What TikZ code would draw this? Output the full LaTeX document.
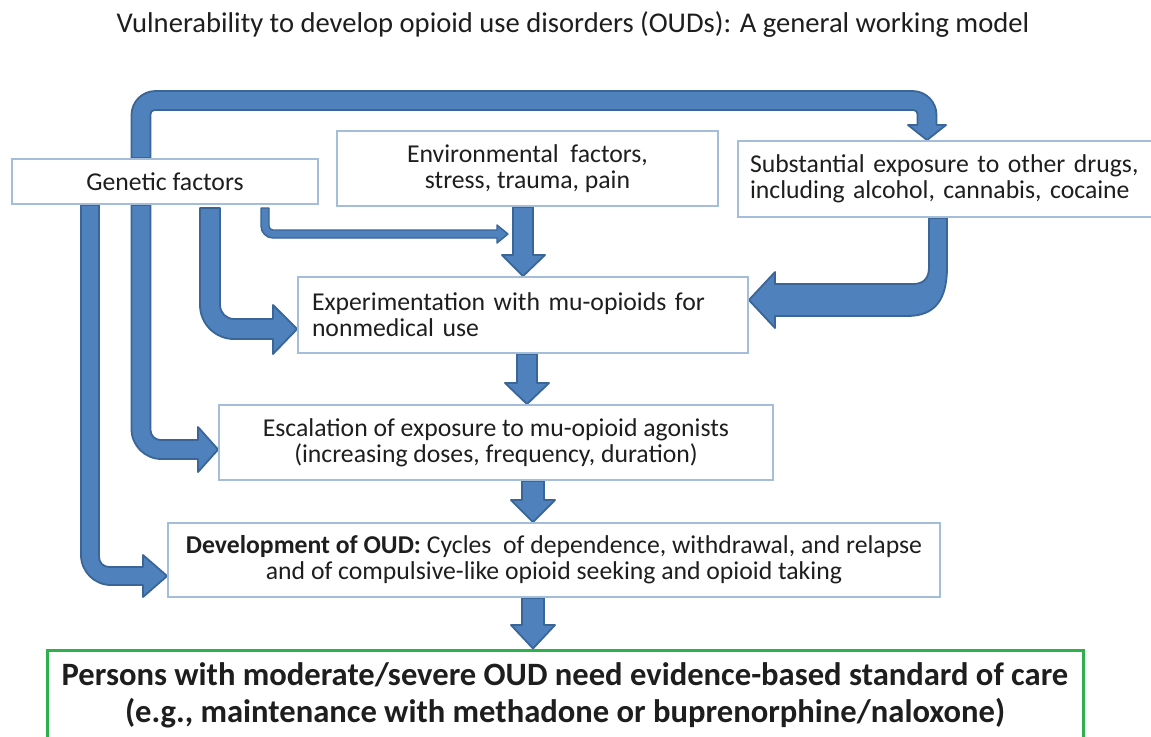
\documentclass[tikz,border=0pt]{standalone}
\usepackage{fontspec}
\setmainfont{Carlito}
\usetikzlibrary{calc}
\definecolor{afill}{HTML}{4F81BD}
\definecolor{aline}{HTML}{3A6597}
\definecolor{bline}{HTML}{A3BDDB}
\definecolor{gline}{HTML}{2EB04C}
\definecolor{txt}{HTML}{1E1E1E}
\pgfdeclarelayer{bg}
\pgfsetlayers{bg,main}
\begin{document}
\begin{tikzpicture}[x=0.5pt,y=-0.5pt,
  blk/.style={fill=afill,draw=aline,line width=0.9pt,line join=round},
  box/.style={draw=bline,fill=white,line width=0.9pt,inner sep=0pt,text=txt,
    font=\fontsize{12.85}{13}\selectfont,align=center},
  lbox/.style={box,align=left}]
\useasboundingbox (0,0) rectangle (1151,736);

\node[anchor=base,text=txt,font=\fontsize{14.3}{16}\selectfont] (title) at (573,32)
  {Vulnerability to develop opioid use disorders (OUDs): A general working model};

\node[box,minimum width=153pt,minimum height=22.5pt] (gen) at (165,181.5) {Genetic factors};
\node[box,minimum width=190.5pt,minimum height=37.5pt] (env) at (527.5,168.5)
  {Environmental\ \ factors,\\stress, trauma, pain};
\node[lbox,minimum width=207.5pt,minimum height=38pt,text width=195.5pt,inner xsep=6pt] (sub) at (945.5,179)
  {Substantial exposure to other drugs,\\including alcohol, cannabis, cocaine};
\node[lbox,minimum width=225pt,minimum height=38pt,text width=211pt,inner xsep=7pt] (exp) at (523,315)
  {Experimentation with mu-opioids for\\nonmedical use};
\node[box,minimum width=277pt,minimum height=37.5pt] (esc) at (496,442.5)
  {Escalation of exposure to mu-opioid agonists\\(increasing doses, frequency, duration)};
\node[box,minimum width=386pt,minimum height=37pt] (dev) at (554,560)
  {\textbf{Development of OUD:} Cycles\ \ of dependence, withdrawal, and relapse\\and of compulsive-like opioid seeking and opioid taking};
\node[box,draw=gline,line width=1.5pt,minimum width=518pt,minimum height=45pt,
  font=\bfseries\fontsize{16.3}{18.5}\selectfont] (care) at (565,695)
  {Persons with moderate/severe OUD need evidence-based standard of care\\(e.g., maintenance with methadone or buprenorphine/naloxone)};

\begin{pgfonlayer}{bg}
\fill[white] (0,0) rectangle (1151,736);
% genetic -> substantial (over the top)
\draw[blk] (131.5,0 |- gen.north) [rounded corners=12pt] -- (131.5,91) -- (936.5,91)
  [sharp corners] -- (936.5,125) -- (946,125) -- (927,0 |- sub.north) -- (908,125) -- (917.5,125)
  [rounded corners=2pt] -- (917.5,110) -- (150.5,110)
  [sharp corners] -- (150.5,0 |- gen.north) -- cycle;
% genetic -> escalation
\draw[blk] (131.5,0 |- gen.south) [rounded corners=15pt] -- (131.5,459)
  [sharp corners] -- (198,459) -- (198,472) -- (esc.west |- 0,449.5) -- (198,427) -- (198,440)
  [rounded corners=5pt] -- (150.5,440)
  [sharp corners] -- (150.5,0 |- gen.south) -- cycle;
% genetic -> development
\draw[blk] (81,0 |- gen.south) [rounded corners=15pt] -- (81,585)
  [sharp corners] -- (143,585) -- (143,597) -- (dev.west |- 0,576) -- (143,555) -- (143,567)
  [rounded corners=5pt] -- (99,567)
  [sharp corners] -- (99,0 |- gen.south) -- cycle;
% genetic -> experimentation
\draw[blk] (200,208) [rounded corners=17pt] -- (200,339)
  [sharp corners] -- (273,339) -- (273,354) -- (exp.west |- 0,329) -- (273,305) -- (273,319)
  [rounded corners=7pt] -- (220,319)
  [sharp corners] -- (220,208) -- cycle;
% genetic -> thin arrow toward the experimentation entry
\draw[blk,line width=0.7pt] (261,208) [rounded corners=6pt] -- (261,238)
  [sharp corners] -- (497,238) -- (497,243) -- (508,234) -- (497,225) -- (497,230)
  [rounded corners=2pt] -- (269,230)
  [sharp corners] -- (269,208) -- cycle;
% environmental -> experimentation
\draw[blk] (513,0 |- env.south) -- (513,255) -- (502,255) -- (523,0 |- exp.north) -- (545,255)
  -- (533,255) -- (533,0 |- env.south) -- cycle;
% substantial -> experimentation
\draw[blk] (929,0 |- sub.south) -- (947,0 |- sub.south) -- (947,267)
  .. controls (947,300) and (935,316) .. (907,316) -- (775,316) -- (775,328)
  -- (exp.east |- 0,300) -- (775,272) -- (775,284) -- (913,284)
  .. controls (924,284) and (929,278) .. (929,267) -- cycle;
% experimentation -> escalation
\draw[blk] (517,0 |- exp.south) -- (517,383) -- (505,383) -- (527,0 |- esc.north) -- (549,383)
  -- (537,383) -- (537,0 |- exp.south) -- cycle;
% escalation -> development
\draw[blk] (522,0 |- esc.south) -- (522,500) -- (511,500) -- (533,0 |- dev.north) -- (555,500)
  -- (544,500) -- (544,0 |- esc.south) -- cycle;
% development -> care
\draw[blk] (522,0 |- dev.south) -- (522,625) -- (511,625) -- (533,0 |- care.north) -- (555,625)
  -- (544,625) -- (544,0 |- dev.south) -- cycle;
\end{pgfonlayer}
\end{tikzpicture}
\end{document}
